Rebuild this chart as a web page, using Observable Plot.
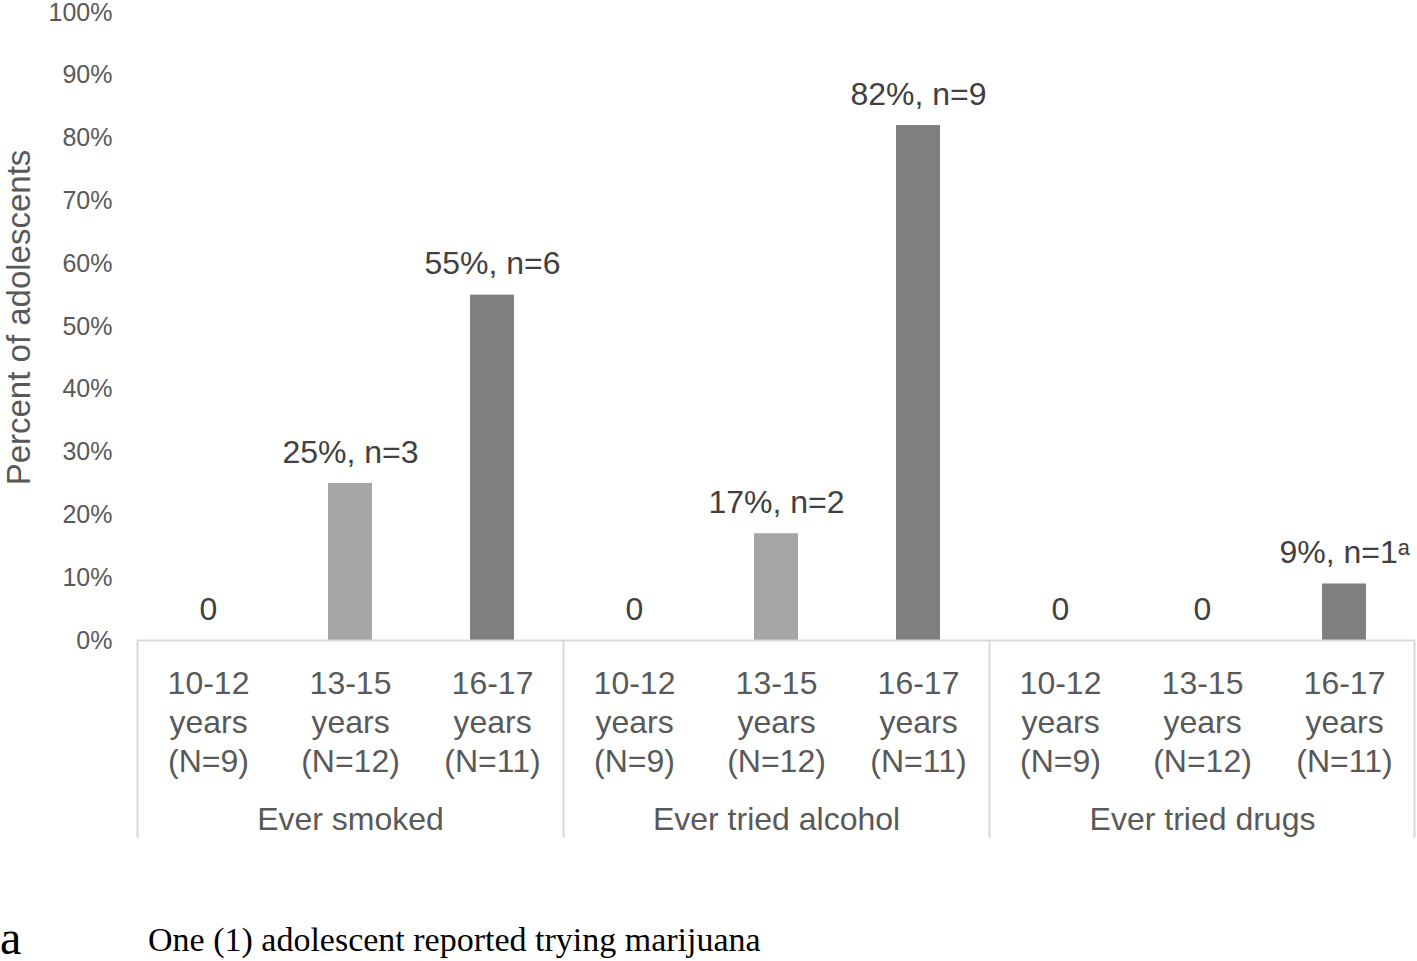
<!DOCTYPE html>
<html>
<head>
<meta charset="utf-8">
<script src="https://cdn.jsdelivr.net/npm/d3@7"></script>
<script src="https://cdn.jsdelivr.net/npm/@observablehq/plot@0.6"></script>
<style>
  html, body { margin: 0; padding: 0; background: #fff; }
  #wrap { position: relative; width: 1417px; height: 961px; overflow: hidden; }
  .fn { position: absolute; font-family: "Liberation Serif", "Times New Roman", serif; color: #000; white-space: nowrap; }
</style>
</head>
<body>
<div id="wrap"></div>
<script>
// ---- data ----
const groups = ["Ever smoked", "Ever tried alcohol", "Ever tried drugs"];
const ages = ["10-12", "13-15", "16-17"];
const ageLines = ["10-12\nyears\n(N=9)", "13-15\nyears\n(N=12)", "16-17\nyears\n(N=11)"];
const smoked = [0, 25, 55];
const alcohol = [0, 17, 82];
const drugs = [0, 0, 9];
const smokedLabels = ["0", "25%, n=3", "55%, n=6"];
const alcoholLabels = ["0", "17%, n=2", "82%, n=9"];
const drugsLabels = ["0", "0", "9%, n=1\u1D43"];
const ageColors = ["#c9c9c9", "#a5a5a5", "#7f7f7f"];
const yTicks = [0, 10, 20, 30, 40, 50, 60, 70, 80, 90, 100];
const footnoteMark = "a";
const footnoteText = "One (1) adolescent reported trying marijuana";

const seriesValues = [smoked, alcohol, drugs];
const seriesLabels = [smokedLabels, alcoholLabels, drugsLabels];
const rows = groups.flatMap((g, gi) => ages.map((a, ai) => ({
  group: g, age: a, key: g + "|" + a, value: seriesValues[gi][ai],
  label: seriesLabels[gi][ai], ageText: ageLines[ai], ageIndex: ai
})));
const keys = rows.map(d => d.key);
const groupCenters = groups.map(g => ({ key: g + "|" + ages[1], group: g }));
const groupStarts = groups.map(g => ({ key: g + "|" + ages[0] }));
const lastKey = [{ key: keys[keys.length - 1] }];

const font = "'Liberation Sans', Arial, Helvetica, sans-serif";
const band = (1417 - 137 - 2) / keys.length;

const chart = Plot.plot({
  width: 1417,
  height: 961,
  marginLeft: 137,
  marginRight: 2,
  marginTop: 12,
  marginBottom: 321,
  style: { fontFamily: font, color: "#595959", background: "#fff", overflow: "visible" },
  x: { type: "band", domain: keys, padding: 0, axis: null },
  y: { domain: [0, 100], axis: null },
  color: { domain: ages, range: ageColors },
  marks: [
    Plot.axisY({ ticks: yTicks, tickFormat: d => d + "%", tickSize: 0, tickPadding: 25, fontSize: 25, label: null }),
    Plot.text([0], { text: () => "Percent of adolescents", frameAnchor: "left", textAnchor: "middle", rotate: -90, dx: -118, dy: -9, fontSize: 33, fill: "#595959" }),
    Plot.barY(rows, { x: "key", y: "value", fill: d => d.age, insetLeft: 49, insetRight: 49 }),
    Plot.ruleY([0], { stroke: "#d9d9d9", strokeWidth: 2 }),
    Plot.ruleX(groupStarts, { x: "key", dx: -band / 2, y1: 0, y2: -31.5, stroke: "#d9d9d9", strokeWidth: 2 }),
    Plot.ruleX(lastKey, { x: "key", dx: band / 2 - 1, y1: 0, y2: -31.5, stroke: "#d9d9d9", strokeWidth: 2 }),
    Plot.text(rows, { x: "key", y: "value", text: "label", dy: -31, fontSize: 32, fill: "#404040" }),
    Plot.text(rows, { x: "key", y: 0, text: "ageText", dy: 80, fontSize: 32, lineHeight: 1.22, fill: "#595959" }),
    Plot.text(groupCenters, { x: "key", y: 0, text: "group", dy: 179, fontSize: 32, fill: "#595959" })
  ]
});

const wrap = document.getElementById("wrap");
wrap.appendChild(chart);

const fa = document.createElement("div");
fa.className = "fn";
fa.textContent = footnoteMark;
fa.style.left = "0px";
fa.style.top = "910px";
fa.style.fontSize = "48px";
wrap.appendChild(fa);

const ft = document.createElement("div");
ft.className = "fn";
ft.textContent = footnoteText;
ft.style.left = "148px";
ft.style.top = "921px";
ft.style.fontSize = "34px";
wrap.appendChild(ft);
</script>
</body>
</html>
